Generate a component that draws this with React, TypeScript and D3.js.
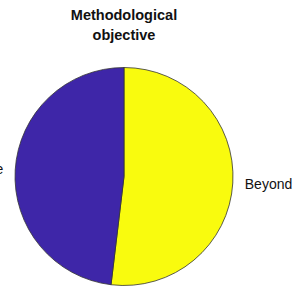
import React from 'react';
import * as d3 from 'd3';

const categories = ['Beyond', 'Replicate'];
const values = [51.9, 48.1];
const colors = ['#f9fb0e', '#3e26a8'];
const titleLines = ['Methodological', 'objective'];

export default function App() {
    const width = 308;
    const height = 294;
    const cx = 124;
    const cy = 176.5;
    const radius = 109;

    const pie = d3.pie<number>().sort(null).startAngle(0).endAngle(2 * Math.PI);
    const arcs = pie(values);
    const arc = d3.arc<d3.PieArcDatum<number>>().innerRadius(0).outerRadius(radius);

    const font = '"Liberation Sans", Arial, sans-serif';

    return (
        <svg width={width} height={height}
            style={{ position: 'absolute', left: 0, top: 0 }}>
            <rect width={width} height={height} fill="#fff" />
            {titleLines.map((t, i) => (
                <text key={t} x={cx} y={20 + i * 20} textAnchor="middle"
                    fontFamily={font} fontWeight="bold" fontSize={14.5} fill="#111">
                    {t}
                </text>
            ))}
            <g transform={`translate(${cx},${cy})`}>
                {arcs.map((a, i) => (
                    <path key={categories[i]} d={arc(a) || ''}
                        fill={colors[i]} stroke="#333" strokeWidth={0.8} />
                ))}
                {arcs.map((a, i) => {
                    const mid = (a.startAngle + a.endAngle) / 2;
                    const x = Math.sin(mid) * radius * 1.11;
                    const y = -Math.cos(mid) * radius * 1.11;
                    return (
                        <text key={'l' + categories[i]} x={x} y={y}
                            dy="0.35em"
                            textAnchor={x >= 0 ? 'start' : 'end'}
                            fontFamily={font} fontSize={14} fill="#111">
                            {categories[i]}
                        </text>
                    );
                })}
            </g>
        </svg>
    );
}
